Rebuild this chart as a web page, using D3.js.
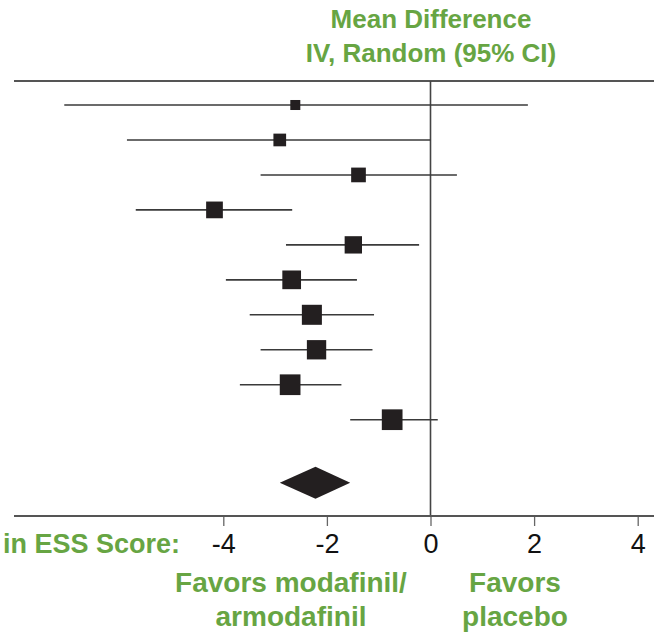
<!DOCTYPE html>
<html>
<head>
<meta charset="utf-8">
<script src="https://cdn.jsdelivr.net/npm/d3@7"></script>
<style>
  html, body { margin: 0; padding: 0; background: #fff; }
  svg { display: block; }
</style>
</head>
<body>
<svg id="chart" width="654" height="633"></svg>
<script>
// ---- Data ----
const studies = ["Study 1","Study 2","Study 3","Study 4","Study 5","Study 6","Study 7","Study 8","Study 9","Study 10"];
const meanDiff = [-2.61, -2.91, -1.39, -4.17, -1.49, -2.68, -2.29, -2.20, -2.71, -0.74];
const ciLower  = [-7.07, -5.86, -3.28, -5.69, -2.79, -3.95, -3.49, -3.28, -3.68, -1.55];
const ciUpper  = [ 1.88,  0.00,  0.51, -2.67, -0.22, -1.42, -1.09, -1.12, -1.72,  0.14];
const weights  = [3.3, 5.3, 7.1, 9.2, 9.9, 11.5, 13.2, 12.3, 14.1, 14.1];
const pooled = { mean: -2.22, lower: -2.91, upper: -1.55 };
const xTicks = [-4, -2, 0, 2, 4];
const titleLines = ["Mean Difference", "IV, Random (95% CI)"];
const axisLabel = "in ESS Score:";
const favorsLeft = ["Favors modafinil/", "armodafinil"];
const favorsRight = ["Favors", "placebo"];

// ---- Drawing ----
const green = "#67a543";
const svg = d3.select("#chart");
const x = d3.scaleLinear().domain([0, 4]).range([430.5, 637.7]);
const y = d3.scaleLinear().domain([0, 9]).range([105, 419.7]);
const pooledRow = 10.8;
const size = d3.scaleSqrt().domain([0, 14.1]).range([0, 20.7]);

const topY = 81, axisY = 516, leftX = 14, rightX = 654;

// Title
svg.append("g").selectAll("text").data(titleLines).join("text")
  .attr("x", 431).attr("y", (d, i) => 28 + i * 34)
  .attr("text-anchor", "middle")
  .attr("font-family", "Liberation Sans, Arial, sans-serif")
  .attr("font-weight", "bold").attr("font-size", 26)
  .attr("fill", green).text(d => d);

// Top rule
svg.append("line").attr("x1", leftX).attr("x2", rightX)
  .attr("y1", topY).attr("y2", topY)
  .attr("stroke", "#555").attr("stroke-width", 2);

// Zero line
svg.append("line").attr("x1", x(0)).attr("x2", x(0))
  .attr("y1", topY).attr("y2", axisY)
  .attr("stroke", "#444").attr("stroke-width", 1.6);

// Axis
const axis = d3.axisBottom(x).tickValues(xTicks).tickSize(10).tickPadding(8)
  .tickFormat(d3.format("d"));
const gAxis = svg.append("g").attr("transform", `translate(0,${axisY})`).call(axis);
gAxis.select(".domain").remove();
gAxis.selectAll(".tick line").attr("stroke", "#666").attr("stroke-width", 1.3);
gAxis.selectAll(".tick text")
  .attr("font-family", "Liberation Sans, Arial, sans-serif")
  .attr("font-size", 27).attr("fill", "#111")
  .text(d => d < 0 ? "-" + Math.abs(d) : d);
svg.append("line").attr("x1", leftX).attr("x2", rightX)
  .attr("y1", axisY).attr("y2", axisY)
  .attr("stroke", "#555").attr("stroke-width", 2);

// CI lines
const rows = studies.map((s, i) => ({ s, i, m: meanDiff[i], lo: ciLower[i], hi: ciUpper[i], w: weights[i] }));
svg.append("g").selectAll("line").data(rows).join("line")
  .attr("x1", d => x(d.lo)).attr("x2", d => x(d.hi))
  .attr("y1", d => y(d.i)).attr("y2", d => y(d.i))
  .attr("stroke", "#3a3a3a").attr("stroke-width", 1.6);

// Squares
svg.append("g").selectAll("rect").data(rows).join("rect")
  .attr("x", d => x(d.m) - size(d.w) / 2)
  .attr("y", d => y(d.i) - size(d.w) / 2)
  .attr("width", d => size(d.w)).attr("height", d => size(d.w))
  .attr("fill", "#231f20");

// Pooled diamond
const py = y(pooledRow), ph = 16;
svg.append("path")
  .attr("d", `M${x(pooled.lower)},${py} L${x(pooled.mean)},${py - ph} L${x(pooled.upper)},${py} L${x(pooled.mean)},${py + ph} Z`)
  .attr("fill", "#231f20");

// Axis label
svg.append("text").attr("x", 180).attr("y", 553)
  .attr("text-anchor", "end")
  .attr("font-family", "Liberation Sans, Arial, sans-serif")
  .attr("font-weight", "bold").attr("font-size", 27)
  .attr("fill", green).text(axisLabel);

// Favors labels
function favors(lines, cx) {
  svg.append("g").selectAll("text").data(lines).join("text")
    .attr("x", cx).attr("y", (d, i) => 592 + i * 34)
    .attr("text-anchor", "middle")
    .attr("font-family", "Liberation Sans, Arial, sans-serif")
    .attr("font-weight", "bold").attr("font-size", 28)
    .attr("fill", green).text(d => d);
}
favors(favorsLeft, 291);
favors(favorsRight, 515);
</script>
</body>
</html>
